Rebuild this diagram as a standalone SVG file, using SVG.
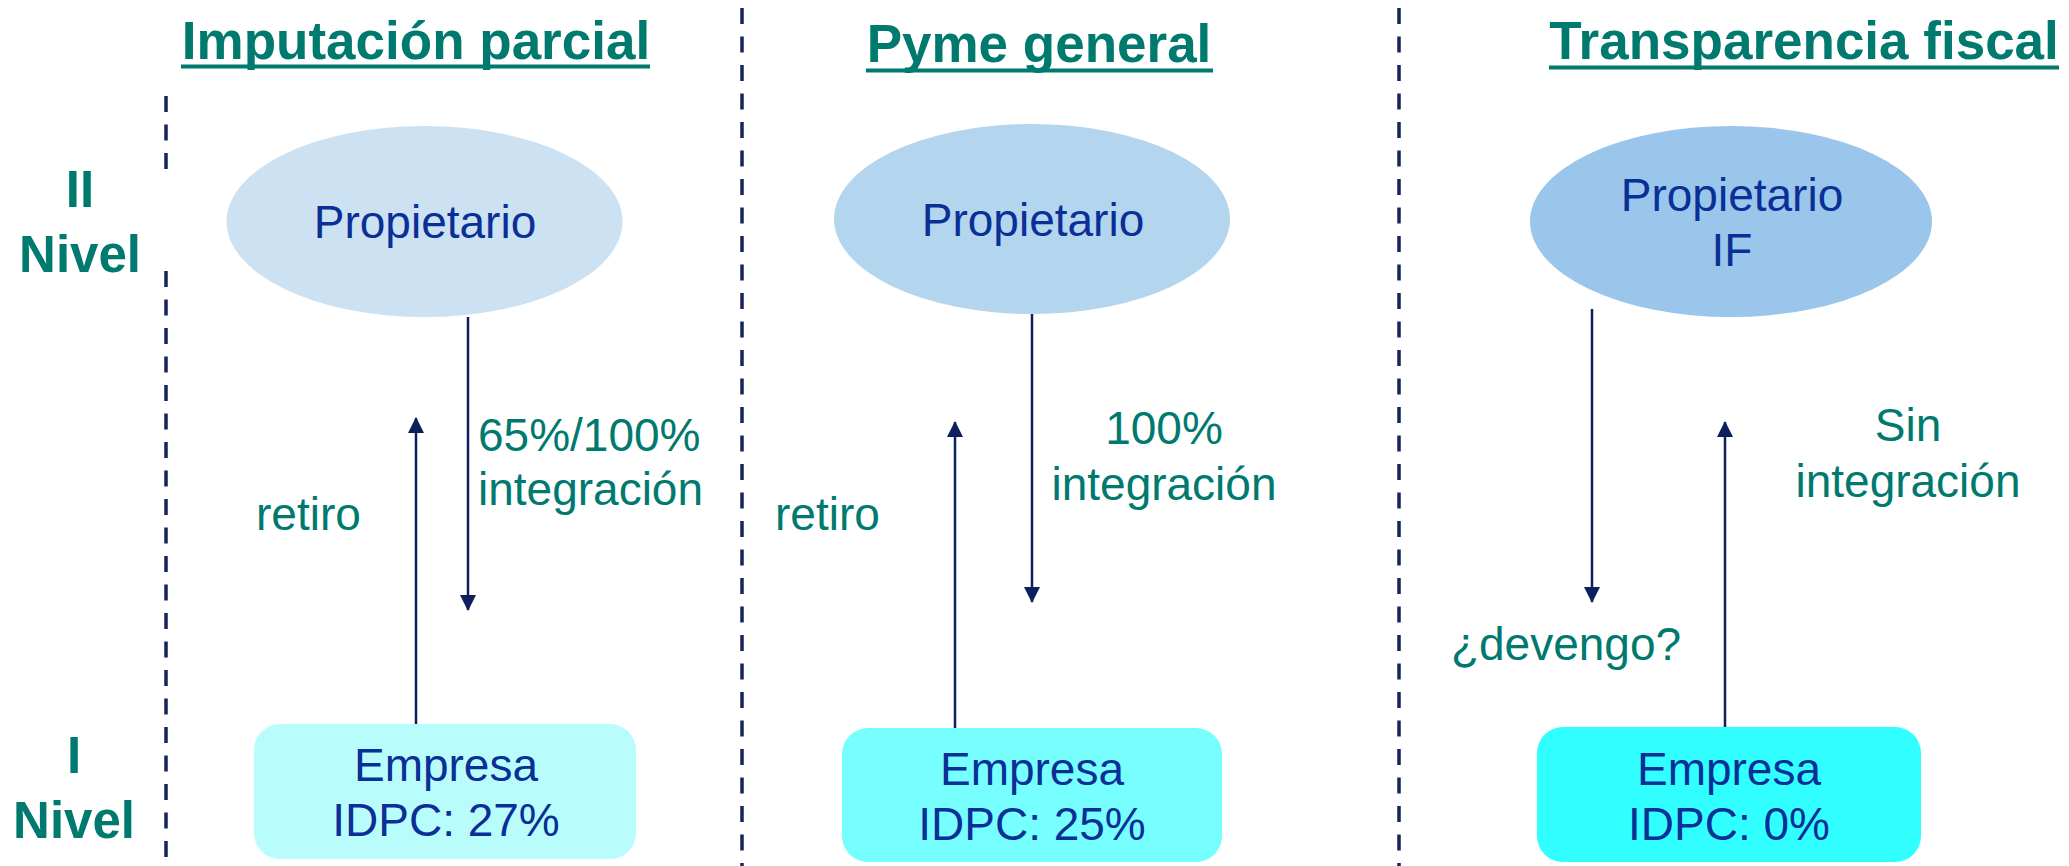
<svg xmlns="http://www.w3.org/2000/svg" width="2069" height="866" viewBox="0 0 2069 866">
<style>
.title{font-family:"Liberation Sans",Arial,sans-serif;font-weight:bold;font-size:53px;fill:#00796F;text-anchor:middle}
.lvl{font-family:"Liberation Sans",Arial,sans-serif;font-weight:bold;font-size:51px;fill:#00796F;text-anchor:middle}
.lbl{font-family:"Liberation Sans",Arial,sans-serif;font-size:46px;fill:#00796F}
.nt{font-family:"Liberation Sans",Arial,sans-serif;font-size:46px;fill:#0A2F96;text-anchor:middle}
.ul{stroke:#00796F;stroke-width:4}
.dash{stroke:#15245A;stroke-width:3.5;stroke-dasharray:16 12.5;fill:none}
.arr{stroke:#0D1F5C;stroke-width:2.5;fill:none;marker-end:url(#ah)}
</style>
<defs>
<marker id="ah" markerUnits="userSpaceOnUse" viewBox="0 0 16 16" markerWidth="16" markerHeight="16" refX="15" refY="8" orient="auto">
<path d="M0,0 L16,8 L0,16 z" fill="#0D1F5C"/>
</marker>
</defs>
<rect width="2069" height="866" fill="#FFFFFF"/>
<g id="dividers">
<line class="dash" x1="166" y1="96" x2="166" y2="170"/>
<line class="dash" x1="166" y1="271" x2="166" y2="866"/>
<line class="dash" x1="742" y1="8" x2="742" y2="866"/>
<line class="dash" x1="1399" y1="8" x2="1399" y2="866"/>
</g>
<g id="titles">
<text class="title" x="416" y="59">Imputación parcial</text>
<line class="ul" x1="181" y1="66.5" x2="650" y2="66.5"/>
<text class="title" x="1039" y="62">Pyme general</text>
<line class="ul" x1="866" y1="70.5" x2="1213" y2="70.5"/>
<text class="title" x="1804" y="59">Transparencia fiscal</text>
<line class="ul" x1="1549" y1="67.5" x2="2059" y2="67.5"/>
</g>
<g id="levels">
<text class="lvl" x="80" y="207">II</text>
<text class="lvl" x="80" y="272">Nivel</text>
<text class="lvl" x="74" y="773">I</text>
<text class="lvl" x="74" y="838">Nivel</text>
</g>
<g id="connectors">
<line class="arr" x1="468" y1="317" x2="468" y2="610"/>
<line class="arr" x1="416" y1="724" x2="416" y2="418"/>
<line class="arr" x1="1032" y1="314" x2="1032" y2="602"/>
<line class="arr" x1="955" y1="728" x2="955" y2="422"/>
<line class="arr" x1="1592" y1="309" x2="1592" y2="602"/>
<line class="arr" x1="1725" y1="727" x2="1725" y2="422"/>
</g>
<g id="connector-labels">
<text class="lbl" x="478" y="451">65%/100%</text>
<text class="lbl" x="478" y="505">integración</text>
<text class="lbl" x="256" y="530">retiro</text>
<text class="lbl" x="1164" y="444" text-anchor="middle">100%</text>
<text class="lbl" x="1164" y="500" text-anchor="middle">integración</text>
<text class="lbl" x="775" y="530">retiro</text>
<text class="lbl" x="1908" y="441" text-anchor="middle">Sin</text>
<text class="lbl" x="1908" y="497" text-anchor="middle">integración</text>
<text class="lbl" x="1566" y="660" text-anchor="middle">¿devengo?</text>
</g>
<g id="propietario-1">
<ellipse cx="424.5" cy="221.5" rx="198" ry="95.5" fill="#CCE2F3"/>
<text class="nt" x="425" y="238">Propietario</text>
</g>
<g id="propietario-2">
<ellipse cx="1032" cy="219" rx="198" ry="95" fill="#B3D5EE"/>
<text class="nt" x="1033" y="236">Propietario</text>
</g>
<g id="propietario-3">
<ellipse cx="1731" cy="221.5" rx="201" ry="95.5" fill="#99C6EA"/>
<text class="nt" x="1732" y="211">Propietario</text>
<text class="nt" x="1732" y="266">IF</text>
</g>
<g id="empresa-1">
<rect x="254" y="724" width="382" height="135" rx="26" fill="#B8FDFC"/>
<text class="nt" x="446" y="781">Empresa</text>
<text class="nt" x="446" y="836">IDPC: 27%</text>
</g>
<g id="empresa-2">
<rect x="842" y="728" width="380" height="134" rx="26" fill="#76FFFE"/>
<text class="nt" x="1032" y="785">Empresa</text>
<text class="nt" x="1032" y="840">IDPC: 25%</text>
</g>
<g id="empresa-3">
<rect x="1537" y="727" width="384" height="135" rx="26" fill="#31FFFF"/>
<text class="nt" x="1729" y="785">Empresa</text>
<text class="nt" x="1729" y="840">IDPC: 0%</text>
</g>
</svg>
